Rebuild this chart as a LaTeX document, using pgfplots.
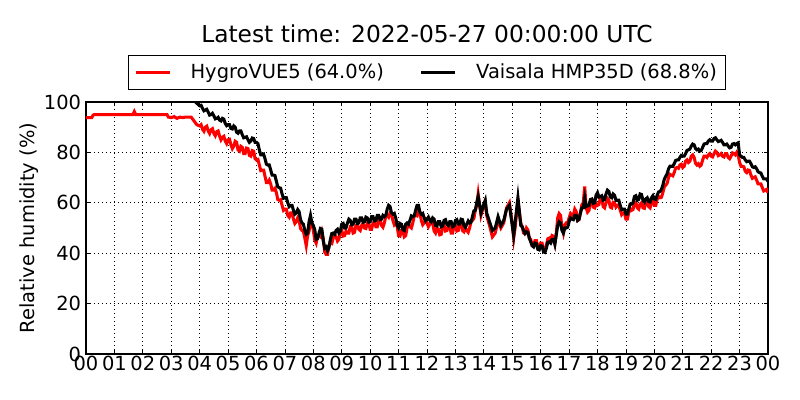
\documentclass[border=0pt]{standalone}
\usepackage{pgfplots}
\pgfplotsset{compat=1.18}
\usepackage{fontspec}
\setmainfont{DejaVu Sans}
\setsansfont{DejaVu Sans}

\begin{document}
\begin{tikzpicture}
\path[use as bounding box] (0,0) rectangle (576pt,288pt);
\begin{axis}[
  at={(61.92pt,33.12pt)}, anchor=south west,
  scale only axis, width=491.04pt, height=181.44pt,
  xmin=0, xmax=24, ymin=0, ymax=100,
  xtick={0,1,...,24},
  xticklabels={00,01,02,03,04,05,06,07,08,09,10,11,12,13,14,15,16,17,18,19,20,21,22,23,00},
  ytick={0,20,40,60,80,100},
  /pgf/number format/assume math mode=true,
  ticklabel style={font=\fontsize{14}{16}\selectfont},
  xticklabel style={inner sep=1.5pt},
  ylabel={Relative humidity (\%)},
  ylabel style={font=\fontsize{14}{16}\selectfont, at={(axis description cs:-0.0836,0.5)}, anchor=center},
  axis line style={line width=0.75pt},
  tick align=inside, major tick length=2.88pt,
  every tick/.style={black, line width=0.5pt},
  grid=major,
  major grid style={black, line width=0.5pt, dash pattern=on 0.72pt off 2.16pt},
  legend columns=2,
  legend style={at={(0.5,1.048)}, anchor=south, draw=black, line width=0.72pt,
    font=\fontsize{14}{16}\selectfont, inner xsep=4pt, inner ysep=4pt,
    /tikz/every odd column/.append style={column sep=12pt},
    /tikz/every even column/.append style={column sep=24pt}},
  legend image code/.code={\draw[#1, line width=2pt] (0pt,0pt) -- (24.5pt,0pt);},
  legend cell align=left,
]
\addplot[red, line width=2.2pt] coordinates {
(0.00,93.8) (0.20,93.8) (0.25,94.8) (0.30,95) (1.65,95) (1.70,96.2) (1.75,95) (2.85,95)
(2.90,94) (3.00,93.8) (3.10,94.2) (3.20,93.5) (3.30,94) (3.40,93.8) (3.50,94) (3.60,94) (3.70,94)
(3.80,92.5) (3.90,91) (4.00,90.5) (4.05,91.0) (4.10,89.2) (4.15,88.4) (4.20,90) (4.25,90.4) (4.30,88.5) (4.35,87.5)
(4.40,89) (4.45,89.4) (4.50,87.5) (4.55,86.6) (4.60,88.2) (4.65,88.5) (4.70,86.5) (4.75,85.0) (4.80,86) (4.85,86.4)
(4.90,84.5) (4.95,83.5) (5.00,85) (5.05,85.2) (5.10,83) (5.15,81.5) (5.20,82.5) (5.25,84.4) (5.30,84) (5.35,81.0)
(5.40,80.5) (5.45,82.4) (5.50,82) (5.55,79.5) (5.60,79.5) (5.65,81.7) (5.70,81.5) (5.75,78.8) (5.80,78.5) (5.85,80.7)
(5.90,80.5) (5.95,77.5) (6.00,77) (6.05,77.2) (6.10,75) (6.15,72.8) (6.20,73) (6.25,73.0) (6.30,70.5) (6.35,68.0)
(6.40,68) (6.45,69.0) (6.50,67.5) (6.55,65.0) (6.60,65) (6.65,65.7) (6.70,64) (6.75,61.3) (6.80,61) (6.85,61.2)
(6.90,59) (6.95,57.0) (7.00,57.5) (7.05,57.5) (7.10,55) (7.15,54.3) (7.20,56) (7.25,56.0) (7.30,53.5) (7.35,51.8)
(7.40,52.5) (7.45,54.0) (7.50,53) (7.55,49.8) (7.60,49) (7.65,48.7) (7.70,46) (7.75,43) (7.80,47) (7.85,48.8)
(7.90,53) (7.95,52.2) (8.00,49) (8.05,45.3) (8.10,44) (8.15,46.7) (8.20,47) (8.25,46.5) (8.30,48.5) (8.35,45.7)
(8.40,40.5) (8.45,39.5) (8.50,39.5) (8.55,43.0) (8.60,44) (8.65,43.8) (8.70,46) (8.75,47.5) (8.80,46.5) (8.85,44.8)
(8.90,45.5) (8.95,48.5) (9.00,49) (9.05,46.8) (9.10,47) (9.15,48.7) (9.20,48) (9.25,48.0) (9.30,50.5) (9.35,50.5)
(9.40,48) (9.45,48.3) (9.50,51) (9.55,51.5) (9.60,49.5) (9.65,49.0) (9.70,51) (9.75,51.7) (9.80,50) (9.85,49.8)
(9.90,52) (9.95,52.0) (10.00,49.5) (10.05,49.5) (10.10,52) (10.15,52.5) (10.20,50.5) (10.25,50.5) (10.30,53) (10.35,53.2)
(10.40,51) (10.45,50.3) (10.50,52) (10.55,54.7) (10.60,55) (10.65,54.3) (10.70,56) (10.75,55.7) (10.80,53) (10.85,51.3)
(10.90,52) (10.95,50.7) (11.00,47) (11.05,46.8) (11.10,49) (11.15,49.0) (11.20,46.5) (11.25,47.0) (11.30,50) (11.35,51.5)
(11.40,50.5) (11.45,50.0) (11.50,52) (11.55,54.7) (11.60,55) (11.65,54.8) (11.70,57) (11.75,56.2) (11.80,53) (11.85,51.3)
(11.90,52) (11.95,53.2) (12.00,52) (12.05,50.5) (12.10,51.5) (12.15,53.0) (12.20,52) (12.25,48.8) (12.30,48) (12.35,50.0)
(12.40,49.5) (12.45,47.3) (12.50,47.5) (12.55,50.5) (12.60,51) (12.65,48.8) (12.70,49) (12.75,51.0) (12.80,50.5) (12.85,48.0)
(12.90,48) (12.95,50.7) (13.00,51) (13.05,48.8) (13.10,49) (13.15,51.7) (13.20,52) (13.25,49.0) (13.30,48.5) (13.35,50.0)
(13.40,49) (13.45,48.3) (13.50,50) (13.55,52.7) (13.60,53) (13.65,53.8) (13.70,57) (13.75,59) (13.80,63.5) (13.90,55)
(14.00,59) (14.05,60) (14.10,55) (14.20,51) (14.30,46.5) (14.40,48) (14.50,53) (14.60,50) (14.70,52) (14.80,58)
(14.90,60) (15.00,52) (15.05,46) (15.10,50) (15.20,61) (15.30,52) (15.35,50.5) (15.40,48) (15.45,47.8) (15.50,50)
(15.55,49.2) (15.60,46) (15.65,45.5) (15.70,43) (15.75,42.8) (15.80,45) (15.85,45.0) (15.90,42.5) (15.95,42.0) (16.00,44)
(16.05,44.0) (16.10,41.5) (16.15,41.0) (16.20,43) (16.25,45.7) (16.30,46) (16.35,45.3) (16.40,47) (16.45,46.7) (16.50,44)
(16.55,48.0) (16.60,54) (16.65,55.7) (16.70,55) (16.75,50.3) (16.80,48) (16.85,51.2) (16.90,52) (16.95,51.8) (17.00,54)
(17.05,55.7) (17.10,55) (17.15,55.0) (17.20,57.5) (17.25,56.5) (17.30,53) (17.35,53.3) (17.40,56) (17.45,59.2) (17.50,60)
(17.55,66.5) (17.60,58) (17.65,56.3) (17.70,57) (17.75,60.2) (17.80,61) (17.85,58.3) (17.90,58) (17.95,59.7) (18.00,59)
(18.05,59.3) (18.10,62) (18.15,61.5) (18.20,58.5) (18.25,58.0) (18.30,60) (18.35,61.7) (18.40,61) (18.45,58.3) (18.50,58)
(18.55,60.2) (18.60,60) (18.65,58.3) (18.70,59) (18.75,59.2) (18.80,57) (18.85,55.3) (18.90,56) (18.95,56.0) (19.00,53.5)
(19.05,53.5) (19.10,56) (19.15,57.7) (19.20,57) (19.25,57.3) (19.30,60) (19.35,60.2) (19.40,58) (19.45,57.5) (19.50,59.5)
(19.55,60.0) (19.60,58) (19.65,57.8) (19.70,60) (19.75,60.5) (19.80,58.5) (19.85,58.0) (19.90,60) (19.95,60.7) (20.00,59)
(20.05,59.0) (20.10,61.5) (20.15,62.5) (20.20,62) (20.25,62.2) (20.30,64) (20.35,66.3) (20.40,67) (20.45,67.7) (20.50,70)
(20.55,71.3) (20.60,71) (20.65,70.7) (20.70,72) (20.75,73.8) (20.80,74) (20.85,73.7) (20.90,75) (20.95,75.3) (21.00,74)
(21.05,74.5) (21.10,76.5) (21.15,77.0) (21.20,76) (21.25,76.5) (21.30,78.5) (21.35,79.0) (21.40,78) (21.45,75.7) (21.50,75)
(21.55,75.5) (21.60,74.5) (21.65,75.0) (21.70,77) (21.75,78.5) (21.80,78.5) (21.85,78.0) (21.90,79) (21.95,79.5) (22.00,78.5)
(22.05,78.2) (22.10,79.5) (22.15,80.5) (22.20,80) (22.25,78.7) (22.30,79) (22.35,79.5) (22.40,78.5) (22.45,78.2) (22.50,79.5)
(22.55,79.5) (22.60,78) (22.65,77.5) (22.70,78.5) (22.75,79.8) (22.80,79.5) (22.85,79.0) (22.90,80) (22.95,79.0) (23.00,76)
(23.05,74.5) (23.10,74.5) (23.15,74.3) (23.20,72.5) (23.25,72.0) (23.30,73) (23.35,72.8) (23.40,71) (23.45,69.7) (23.50,70)
(23.55,70.3) (23.60,69) (23.65,67.5) (23.70,67.5) (23.75,67.5) (23.80,66) (23.85,64.7) (23.90,65) (23.95,65.3) (24.00,64)
};
\addlegendentry{HygroVUE5 (64.0\%)}
\addplot[black, line width=2.2pt] coordinates {
(3.85,100) (3.90,99.5) (4.00,98.5) (4.05,98.7) (4.10,97.5) (4.15,96.5) (4.20,96.8) (4.25,97.1) (4.30,96) (4.35,94.8)
(4.40,95) (4.45,95.5) (4.50,94.5) (4.55,93.3) (4.60,93.5) (4.65,93.9) (4.70,92.8) (4.75,92.5) (4.80,93.5) (4.85,93.2)
(4.90,91.5) (4.95,90.6) (5.00,91) (5.05,91.0) (5.10,89.5) (5.15,89.3) (5.20,90.5) (5.25,90.0) (5.30,88) (5.35,87.6)
(5.40,88.5) (5.45,88.5) (5.50,87) (5.55,85.8) (5.60,86) (5.65,86.2) (5.70,85) (5.75,84.0) (5.80,84.5) (5.85,85.7)
(5.90,85.5) (5.95,84.0) (6.00,84) (6.05,83.5) (6.10,81) (6.15,79.0) (6.20,79) (6.25,79.3) (6.30,77.5) (6.35,75.3)
(6.40,75) (6.45,75.0) (6.50,73) (6.55,71.0) (6.60,71) (6.65,70.8) (6.70,68.5) (6.75,66.3) (6.80,66) (6.85,65.8)
(6.90,63.5) (6.95,61.8) (7.00,62) (7.05,62.0) (7.10,60) (7.15,58.5) (7.20,59) (7.25,59.0) (7.30,57) (7.35,55.5)
(7.40,56) (7.45,57.3) (7.50,56.5) (7.55,53.3) (7.60,52) (7.65,51.5) (7.70,49) (7.75,47.5) (7.80,48) (7.85,52.5)
(7.90,55) (7.95,52) (8.00,51) (8.05,49.3) (8.10,45.5) (8.15,45.8) (8.20,48) (8.25,49.8) (8.30,49.5) (8.35,44.8)
(8.40,42) (8.45,42.5) (8.50,41) (8.55,42.3) (8.60,45.5) (8.65,47.8) (8.70,48) (8.75,47.5) (8.80,49) (8.85,49.5)
(8.90,48) (8.95,48.8) (9.00,51.5) (9.05,51.8) (9.10,50) (9.15,50.0) (9.20,52) (9.25,53.5) (9.30,53) (9.35,51.3)
(9.40,51.5) (9.45,53.5) (9.50,53.5) (9.55,51.8) (9.60,52) (9.65,54.0) (9.70,54) (9.75,52.3) (9.80,52.5) (9.85,54.3)
(9.90,54) (9.95,52.3) (10.00,52.5) (10.05,54.5) (10.10,54.5) (10.15,52.8) (10.20,53) (10.25,55.0) (10.30,55) (10.35,53.3)
(10.40,53.5) (10.45,55.0) (10.50,54.5) (10.55,55.0) (10.60,57.5) (10.65,59.0) (10.70,58.5) (10.75,56.0) (10.80,55.5) (10.85,55.8)
(10.90,54) (10.95,51.0) (11.00,50) (11.05,51.8) (11.10,51.5) (11.15,49.3) (11.20,49) (11.25,51.5) (11.30,52) (11.35,51.5)
(11.40,53) (11.45,54.8) (11.50,54.5) (11.55,54.8) (11.60,57) (11.65,59.0) (11.70,59) (11.75,56.3) (11.80,55.5) (11.85,55.8)
(11.90,54) (11.95,52.8) (12.00,53.5) (12.05,54.3) (12.10,53) (12.15,52.5) (12.20,54) (12.25,53.5) (12.30,51) (12.35,50.8)
(12.40,52.5) (12.45,52.5) (12.50,50.5) (12.55,50.8) (12.60,53) (12.65,53.3) (12.70,51.5) (12.75,51.0) (12.80,52.5) (12.85,52.5)
(12.90,50.5) (12.95,50.8) (13.00,53) (13.05,53.3) (13.10,51.5) (13.15,51.5) (13.20,53.5) (13.25,53.3) (13.30,51) (13.35,50.3)
(13.40,51.5) (13.45,52.8) (13.50,52) (13.55,52.3) (13.60,54.5) (13.65,56.8) (13.70,57) (13.75,60.0) (13.80,62.5) (13.90,56)
(14.00,59.5) (14.05,61) (14.10,56) (14.20,52.5) (14.30,49) (14.40,50) (14.50,54.5) (14.60,51) (14.70,53) (14.80,57.5)
(14.90,59) (15.00,51) (15.05,47) (15.10,52) (15.20,62) (15.30,51) (15.35,50.5) (15.40,49) (15.45,47.8) (15.50,48.5)
(15.55,48.3) (15.60,46) (15.65,44.5) (15.70,43) (15.75,42.5) (15.80,44) (15.85,43.8) (15.90,41.5) (15.95,41.3) (16.00,43)
(16.05,42.8) (16.10,40.5) (16.15,40.3) (16.20,42) (16.25,44.3) (16.30,44.5) (16.35,44.0) (16.40,45.5) (16.45,45.5) (16.50,43.5)
(16.55,47.3) (16.60,51) (16.65,52.5) (16.70,52) (16.75,49.0) (16.80,48) (16.85,50.0) (16.90,50) (16.95,50.3) (17.00,52.5)
(17.05,54.0) (17.10,53.5) (17.15,53.3) (17.20,55) (17.25,55.0) (17.30,53) (17.35,53.5) (17.40,56) (17.45,58.0) (17.50,58)
(17.55,62) (17.60,58.5) (17.65,58.8) (17.70,59) (17.75,61.3) (17.80,61.5) (17.85,59.8) (17.90,60) (17.95,63.0) (18.00,64)
(18.05,62.3) (18.10,62.5) (18.15,62.8) (18.20,61) (18.25,61.3) (18.30,63.5) (18.35,65.0) (18.40,64.5) (18.45,62.3) (18.50,62)
(18.55,63.5) (18.60,63) (18.65,61.0) (18.70,61) (18.75,61.0) (18.80,59) (18.85,57.3) (18.90,57.5) (18.95,57.5) (19.00,55.5)
(19.05,55.5) (19.10,57.5) (19.15,59.5) (19.20,59.5) (19.25,60.0) (19.30,62.5) (19.35,62.8) (19.40,61) (19.45,61.3) (19.50,63.5)
(19.55,63.3) (19.60,61) (19.65,60.3) (19.70,61.5) (19.75,62.0) (19.80,60.5) (19.85,60.3) (19.90,62) (19.95,62.8) (20.00,61.5)
(20.05,61.3) (20.10,63) (20.15,64.3) (20.20,64.5) (20.25,65.3) (20.30,67) (20.35,69.3) (20.40,70.5) (20.45,71.5) (20.50,73.5)
(20.55,74.5) (20.60,74.5) (20.65,74.5) (20.70,75.5) (20.75,76.8) (20.80,77) (20.85,77.0) (20.90,78) (20.95,78.8) (21.00,78.5)
(21.05,78.5) (21.10,79.5) (21.15,80.8) (21.20,81) (21.25,81.3) (21.30,82.5) (21.35,83.3) (21.40,83) (21.45,81.5) (21.50,81)
(21.55,81.3) (21.60,80.5) (21.65,80.8) (21.70,82) (21.75,83.3) (21.80,83.5) (21.85,83.5) (21.90,84.5) (21.95,85.0) (22.00,84.5)
(22.05,84.5) (22.10,85.5) (22.15,85.8) (22.20,85) (22.25,84.3) (22.30,84.5) (22.35,84.8) (22.40,84) (22.45,83.0) (22.50,83)
(22.55,83.3) (22.60,82.5) (22.65,81.8) (22.70,82) (22.75,83.3) (22.80,83.5) (22.85,83.0) (22.90,83.5) (22.95,83.8) (23.00,79)
(23.05,78.5) (23.10,78) (23.15,78.0) (23.20,77) (23.25,76.3) (23.30,76.5) (23.35,76.5) (23.40,75.5) (23.45,74.3) (23.50,74)
(23.55,74.3) (23.60,73.5) (23.65,72.3) (23.70,72) (23.75,71.8) (23.80,70.5) (23.85,69.5) (23.90,69.5) (23.95,69.5) (24.00,68.5)
};
\addlegendentry{Vaisala HMP35D (68.8\%)}
\end{axis}
\node[anchor=base, font=\fontsize{16.8}{19}\selectfont, inner sep=0pt] at (307.44pt,257.04pt) {Latest time: 2022-05-27 00:00:00 UTC};
\end{tikzpicture}
\end{document}
